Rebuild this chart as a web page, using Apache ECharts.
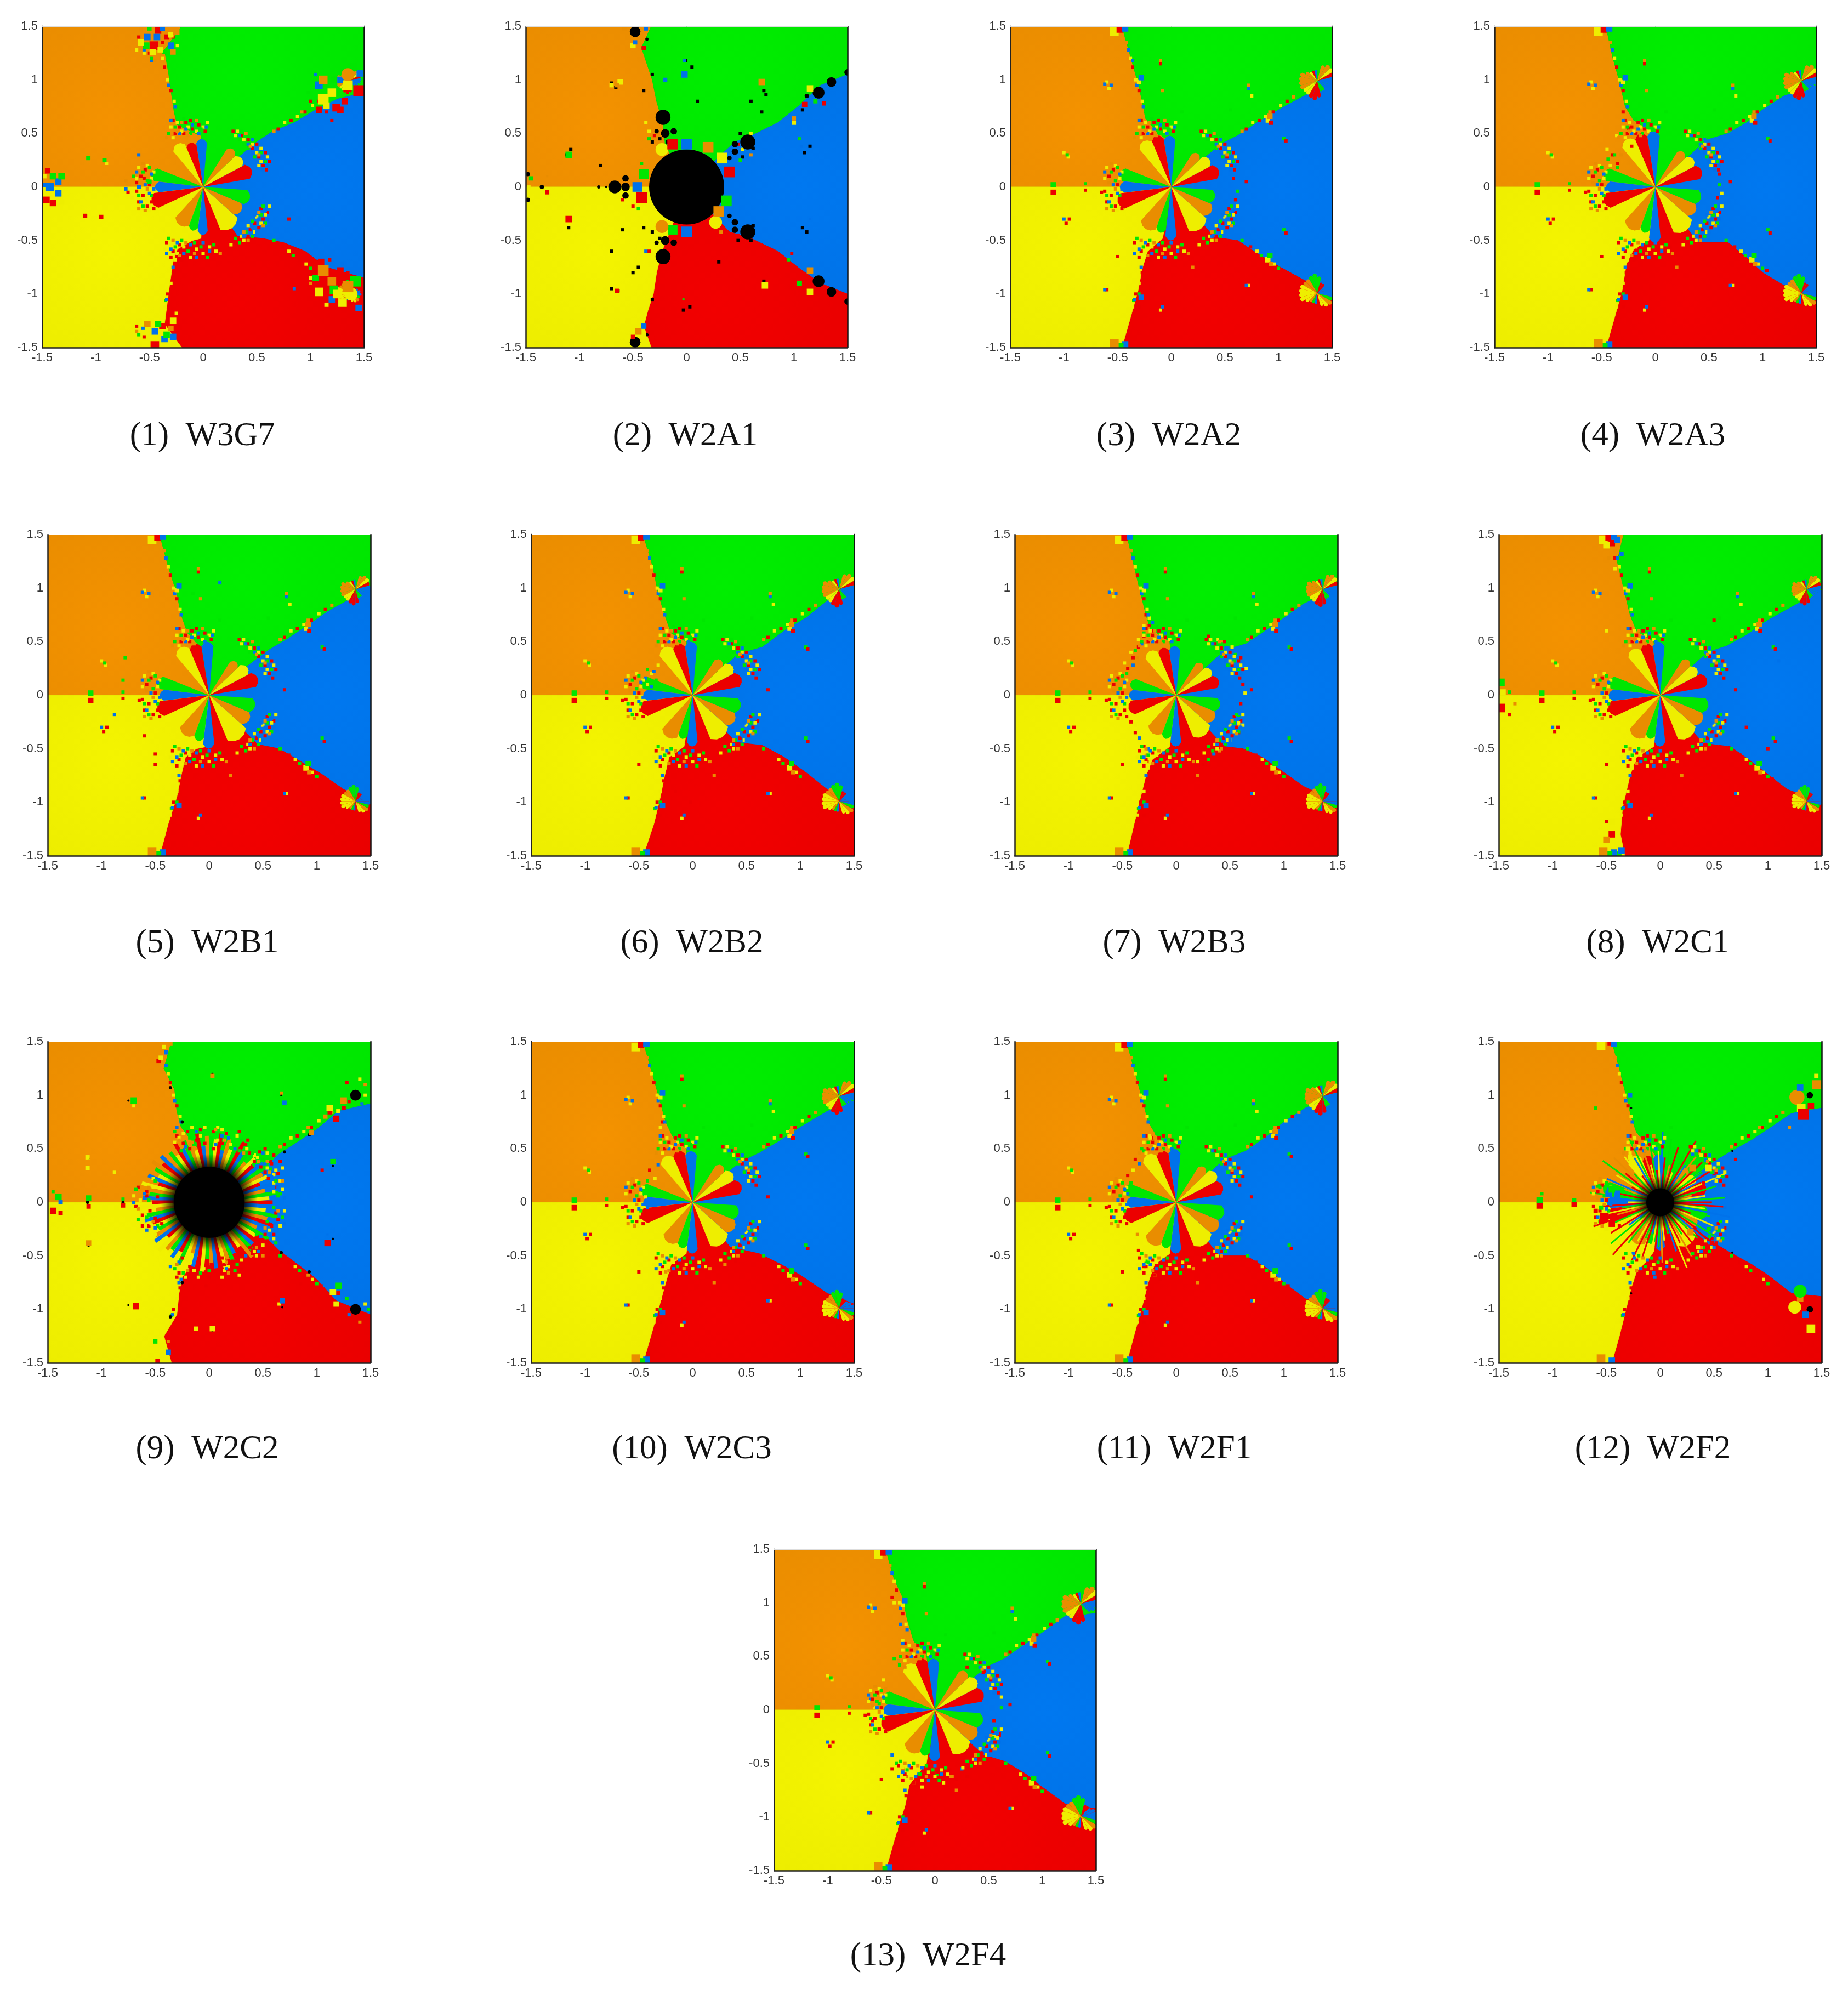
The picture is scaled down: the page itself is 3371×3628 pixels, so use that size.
<!DOCTYPE html>
<html>
<head>
<meta charset="utf-8">
<script src="https://cdn.jsdelivr.net/npm/echarts@6/dist/echarts.min.js"></script>
<style>html,body{margin:0;background:#fff}#main{width:3371px;height:3628px}</style>
</head>
<body>
<div id="main"></div>
<script>
// basins of attraction, 13 panels. all coordinates below are hundredths of the axis unit
var panelNames = ['(1)  W3G7','(2)  W2A1','(3)  W2A2','(4)  W2A3','(5)  W2B1','(6)  W2B2','(7)  W2B3','(8)  W2C1','(9)  W2C2','(10)  W2C3','(11)  W2F1','(12)  W2F2','(13)  W2F4'];
var tickValues = [-1.5,-1,-0.5,0,0.5,1,1.5];
var tickLabels = ['-1.5','-1','-0.5','0','0.5','1','1.5'];
var basinColor = {o:'#E98D00',g:'#00E600',b:'#0072EA',r:'#EC0000',y:'#EEEE00',k:'#000000'};

// basin boundaries, outer end first
var orangeGreen = [
'-20,150 -36,128 -32,105 -30,90 -27,70 -24,58 -12,52 -2,48 0,0',
'-33,150 -42,130 -37,115 -32,100 -28,80 -22,60 -20,40 0,0',
'-46,150 -38,122 -31,97 -27,80 -24,64 -14,52 -4,44 0,0',
'-46,150 -40,122 -33,97 -28,75 -20,62 -4,52 0,0',
'-46,150 -38,120 -30,95 -26,75 -20,58 -8,45 0,0',
'-46,150 -37,120 -32,95 -26,75 -20,58 -6,50 0,0',
'-46,150 -39,120 -33,95 -28,75 -24,62 -6,50 0,0',
'-34,150 -40,125 -34,100 -28,75 -22,60 -6,50 0,0',
'-35,150 -42,125 -32,105 -30,85 -26,70 -10,50 0,0',
'-46,150 -38,122 -31,97 -25,75 -18,60 -6,50 0,0',
'-46,150 -38,120 -31,95 -26,75 -18,62 -6,52 0,0',
'-45,150 -38,125 -33,105 -27,80 -22,65 -10,52 -2,40 0,0',
'-46,150 -38,122 -30,105 -26,85 -20,65 -8,52 0,0'];
var greenBlue = [
'150,88 125,82 105,72 85,60 65,52 50,42 0,0',
'150,105 125,95 105,76 85,60 65,50 45,42 0,0',
'150,98 122,84 100,72 80,60 62,48 46,40 0,0',
'150,95 120,85 100,72 85,60 68,50 48,44 0,0',
'150,100 128,88 110,78 90,64 72,52 55,42 0,0',
'150,102 125,88 105,72 85,60 65,45 42,38 0,0',
'150,100 118,85 100,72 80,58 65,48 45,42 0,0',
'150,98 118,80 100,70 80,56 62,46 44,40 0,0',
'150,92 120,85 100,68 85,58 65,45 55,35 0,0',
'150,95 125,85 100,70 82,58 62,46 45,38 0,0',
'150,100 120,88 100,75 85,62 65,48 45,40 0,0',
'150,88 122,83 100,68 85,58 65,47 50,38 0,0',
'150,90 122,88 100,72 85,62 65,48 48,40 0,0'];
var blueRed = [
'150,-85 115,-75 95,-60 75,-52 55,-48 32,-46 0,0',
'150,-100 125,-90 105,-76 85,-60 60,-48 40,-42 0,0',
'150,-100 122,-86 100,-74 80,-62 62,-50 40,-47 0,0',
'150,-98 120,-92 100,-80 85,-66 68,-52 40,-52 0,0',
'150,-100 125,-88 105,-74 85,-62 65,-50 45,-46 0,0',
'150,-102 125,-88 105,-72 85,-58 65,-47 40,-44 0,0',
'150,-100 118,-85 100,-72 80,-58 62,-50 45,-48 0,0',
'150,-100 118,-88 100,-74 82,-60 65,-48 40,-45 0,0',
'150,-105 118,-92 100,-72 85,-60 65,-45 55,-35 0,0',
'150,-95 125,-85 100,-68 82,-58 62,-48 35,-42 0,0',
'150,-100 120,-90 100,-75 85,-62 65,-50 40,-50 0,0',
'150,-88 122,-85 100,-68 85,-58 65,-47 50,-38 0,0',
'150,-92 122,-88 100,-72 85,-60 65,-48 45,-42 0,0'];
var redYellow = [
'-20,-150 -36,-128 -33,-105 -31,-90 -28,-70 -24,-58 -10,-50 -2,-48 0,0',
'-33,-150 -40,-130 -36,-115 -31,-100 -28,-80 -23,-60 -15,-40 0,0',
'-46,-150 -38,-122 -31,-97 -27,-76 -22,-60 -8,-48 0,0',
'-46,-150 -38,-122 -31,-97 -27,-72 -20,-58 -6,-50 0,0',
'-46,-150 -38,-120 -30,-95 -26,-75 -22,-58 -12,-50 -2,-48 0,0',
'-46,-150 -36,-120 -30,-95 -26,-75 -22,-58 -8,-48 0,0',
'-46,-150 -39,-120 -33,-95 -28,-75 -22,-60 -6,-48 0,0',
'-33,-150 -37,-130 -35,-105 -28,-75 -22,-58 -6,-48 0,0',
'-35,-150 -42,-125 -30,-105 -28,-85 -25,-70 -10,-50 0,0',
'-46,-150 -38,-122 -31,-97 -25,-75 -20,-58 -6,-48 0,0',
'-46,-150 -38,-120 -31,-95 -26,-75 -20,-58 -6,-48 0,0',
'-45,-150 -38,-125 -33,-105 -27,-80 -22,-65 -10,-52 -2,-40 0,0',
'-46,-150 -38,-122 -33,-105 -28,-90 -24,-70 -8,-50 0,0'];

// petals around the origin: start angle in degrees, colour, then the length per panel
// a length of 0 means that sector just belongs to the basin behind it
var petalStart = [10,28,44,58,85,99,113,130,158,173,187,205,228,250,263,276,292,318,337,356];
var petalEnd   = [28,44,58,85,99,113,130,158,173,187,205,228,250,263,276,292,318,337,356,370];
var petalColor = 'ryogbryogbryogbryogb';
var petalLength = [
[48,45,45,0,45,43,47,0,50,45,50,0,42,42,45,0,47,42,45,0],
[],
[47,44,40,0,48,50,50,0,50,48,52,0,46,44,50,0,48,44,42,0],
[46,44,42,0,52,52,52,0,50,46,50,0,46,44,52,0,50,44,44,0],
[48,44,40,0,50,50,52,0,50,46,50,0,44,44,50,0,50,44,44,0],
[48,46,42,0,50,50,52,0,50,46,50,0,46,42,48,0,48,46,46,0],
[42,40,38,0,46,46,48,0,44,44,46,0,42,42,48,0,46,42,42,0],
[46,42,42,0,50,50,50,0,50,48,50,0,46,42,48,0,48,46,46,0],
[],
[48,46,44,0,48,50,50,0,50,46,50,0,44,44,48,0,48,46,44,0],
[46,46,42,0,50,50,52,0,50,46,50,0,46,44,48,0,48,46,46,0],
[45,40,40,0,45,45,50,0,55,50,50,0,45,40,45,0,48,40,45,0],
[48,48,46,0,48,50,50,0,50,48,52,0,46,44,48,0,48,46,46,0]];

// small rosettes near the right edge, 15 degree sectors
var rosetteCenters = [[136,99],[136,-99]];
var rosetteColors = ['bryoogbryoooooyyrrrggbbb','bbbrrgggooyyyyyogbryyogb'];
var rosetteRadii = [
[13,13,14,14,12,8,8,8,8,10,13,13,13,13,12,12,13,14,12,8,8,8,10,12],
[12,10,8,8,8,12,14,13,12,12,13,13,13,13,10,8,8,8,8,10,12,13,12,13]];
var rosetteScale = [0.9,0,1.3,1.3,1.1,1.25,1.2,1.1,0,1.25,1.3,0,1.4];

// radial spokes of the two panels with a black disc and streaks
var spokeColors = {
8:'rygobryogbryogbrgyobrygobryogbrygobrogybryogbryogbrygobryogbrgyobrygobryogbryogbrygobrogyb',
11:'rgyogrybrgyrgobrgyrogrbyrgyorgbrygorgyrbogrgbyrgyorgyrbgyrgoyrgrbyrgoyrgbyrogrygbrgoyrgbyr'};
var spokeReach = {
8:'325140325413042531405324150342513042531405324150342513405324153042513405231405324150342513',
11:'352041625304152630415263041526304152630415263041526304152630251403625140362514036251403625'};
var spokeBase = {8:[33,50,3,7],11:[13,30,6,3]};
var haloRadius = {8:[33,45],11:[13,25]};

// marks as colour:x,y[,radius] - with a radius it is a patch, without one a single speck
// mottled bands off the petal tips: upper right, lower right, top, bottom, left
var petalFringe =
 'r:28,52 36,48 42,44 50,40 46,36 58,32 52,28 62,24 56,20 59,16 30,-52 34,-48 42,-46 44,-40 52,-38 48,-34 56,-30 60,-24 54,-20 -28,62 -22,56 -16,60 -10,54 -4,58 2,52 -26,50 -18,50 -12,62 -34,-52 -28,-60 -22,-54 -16,-62 -10,-56 -4,-64 2,-58 8,-62 14,-56 -30,-66 -20,-68 -48,-14 -52,-18 -56,-8 -60,-14 -50,2 -58,10 -62,-4 -46,-20 -54,16;' +
 'y:32,52 30,48 38,44 46,40 54,36 50,32 60,28 54,24 52,20 26,-54 38,-50 36,-46 48,-42 42,-36 54,-34 50,-28 58,-26 62,-18 -30,56 -24,60 -20,52 -14,56 -6,52 0,56 4,60 -28,46 -36,-58 -30,-54 -24,-62 -18,-56 -12,-66 -6,-58 0,-62 6,-56 12,-60 -26,-68 -50,-22 -54,-12 -58,-2 -62,8 -48,8 -52,20 -60,18 -46,14;' +
 'g:36,52 42,48 34,44 38,40 42,36 54,32 48,28 58,24 34,-52 30,-48 46,-46 40,-42 46,-32 58,-34 54,-26 56,-18 -26,56 -18,64 -12,50 -8,60 -2,54 -32,50 -32,-48 -26,-56 -20,-50 -14,-60 -8,-52 -2,-56 4,-66 10,-54 -48,-8 -56,-18 -52,6 -60,-8 -56,14 -50,18;' +
 'b:34,48 46,44 42,40 50,36 46,32 56,28 50,24 60,20 55,16 38,-46 50,-42 46,-38 52,-30 48,-26 60,-30 58,-22 -22,50 -16,54 -10,58 -4,50 3,56 -30,62 -30,-58 -24,-52 -18,-62 -12,-54 -6,-66 0,-52 6,-60 -34,-62 -50,-6 -54,2 -58,-14 -62,14 -48,12 -46,-2;' +
 'o:40,50 44,38 52,30 42,-50 38,-42 56,-36 52,-24 -24,52 -14,48 -6,62 -20,60 -34,46 -28,-50 -22,-64 -16,-52 -8,-62 16,-62 -52,-2 -58,4 -54,-22 -60,-20 -56,22';
// the wider, all round fringe outside the streaks of panel 9
var streakFringe =
 'r:42,38 48,33 52,28 55,22 58,36 60,44 38,46 30,52 -24,55 -18,50 -12,58 -4,55 4,50 12,55 -50,-15 -55,-8 -48,5 -58,10 -44,-20 -25,-52 -18,-60 -10,-56 2,-58 12,-52 22,-55 38,-42 46,-36 52,-30 58,-22 62,-10 60,-30 -30,-70 -22,-72 30,-62 34,54 47,47 57,38 64,27 66,20 63,14 36,58 52,50 66,38 -30,62 -20,66 -8,68 4,66 16,64 28,66 -66,14 -58,6 -68,-4 -62,-12 -56,-22 -62,-22 -28,-66 -14,-68 0,-70 14,-58 26,-52 40,-48 54,-36 64,-16 58,-44;' +
 'y:45,42 54,32 60,26 35,50 20,54 -28,60 -8,62 8,58 -52,14 -60,-4 -54,-20 -20,-55 -14,-64 -5,-62 18,-60 30,-54 42,-46 50,-40 56,-26 14,-64 66,20 60,18 42,44 62,30 68,12 60,10 54,46 68,32 26,62 12,68 -32,56 -24,64 -16,70 -4,70 8,70 -70,6 -64,2 -52,22 -64,-8 -50,-30 -36,-46 -22,-70 -10,-70 12,-70 28,-68 44,-50 60,-34 66,-22 70,-8;' +
 'g:40,46 50,40 57,31 62,20 28,48 -26,48 -14,54 2,60 -50,20 -56,2 -48,-22 -58,-14 -24,-66 0,-64 26,-58 44,-30 54,-18 60,-5 64,6 55,40 66,8 30,58 -32,66 -18,60 8,64 -68,12 -66,-16 -32,-62 -8,-66 24,-64 68,-14 62,-38;' +
 'b:44,34 52,36 58,24 24,50 -22,52 6,54 -60,8 -50,-24 -28,-56 34,-50 48,-32 50,46 64,14 70,4 18,60 -30,70 -12,66 12,62 -70,0 -58,-26 -36,-60 -26,-72 16,-62 46,-46 62,-20 70,-20;' +
 'o:46,38 56,28 32,46 14,58 -16,56 -56,14 -52,-18 -20,-64 16,-56 44,-42 52,-24 54,38 68,20 -28,58 6,68 -66,-6 -30,-58 18,-66 50,-50 64,-8';
var edgeSpecks = 'r:70,54 82,62 95,70 108,80 -30,90 -36,112 -27,-80 -33,-100 74,-56 90,-68 104,-78;y:76,60 88,66 102,76 -27,80 -33,100 -38,120 -30,-90 -36,-112 80,-60 96,-72;g:66,-50 84,-64 100,-76 -35,-106;b:-26,75 -32,95 -40,128 -28,-75 -34,-105;o:66,52 92,70 114,84 -42,135';
var islandMarks = 'y:-53,145,4 -60,98 -58,92 -100,32 -96,28 -30,98,2 90,62,2 90,-68,2.5 75,85 -10,-115 72,-92,1.5;' +
 'r:-48,147,3 -10,115 -60,-96 -95,-30 -98,-34 93,60,2 107,43,1.5 107,-43 -50,-65 -110,-5,2.5 -80,-3,1.5 70,5 -65,-5 -30,-112;' +
 'b:-43,148,3 -43,-147,3 -62,96 -56,95 -28,102,2.5 -28,-103,2.5 72,92,1.5 -62,-96 -100,-30 70,-92,1.5 -8,-112;' +
 'g:-110,2,2.5 -80,3,1.5 -47,-148,2.5 -97,30 105,45 -30,-100 92,-64,2.5 55,72 10,70 105,-40;' +
 'o:-53,-146,4 92,66,2.5 93,-72,2 -8,90 -10,118 72,95 20,-75';
var panelMarks = [
'r:-46,132,4 -42,146,3 -34,140,2.5 108,72,3 124,74,3.5 128,72,3 132,80,3 145,90,5 -146,-12,3 -140,-15,3 -145,15,2.5 -45,-148,4 -38,-130,3 110,-70,3 128,-78,3 80,-30 -95,-28,2 -110,-27,2 -50,125 -38,135 -28,140 -60,140 115,70 120,62 100,80 -62,-130 -30,-128 -55,-140 100,-82 118,-68 135,-80 -70,-5 -62,4 -55,8;b:-52,140,3 -38,148,2.5 -30,132,3 -43,140,3 108,95,3.5 128,100,3 146,106,3 -143,0,4 -135,5,3 -135,-6,3 -147,2,2 -28,-140,3 -45,-135,3 -36,-142,3 120,-105,3 145,-113,3 -60,30 85,-95,1.5 -55,128 -48,118 105,105 130,-72 -56,-132 -72,-2 -60,0,2;g:-53,132,3 -50,148,2 -36,126,2 122,100,3 140,112,3.5 -140,10,3 -132,10,3 -42,-128,3 -34,-138,3 105,-85,3 122,-96,4 142,-88,5 -92,25,2 -107,27,2 -48,120 98,88 -60,-138 -65,10 -50,5,2;y:-58,135,3 -47,126,3 -40,128,2.5 -30,142,2.5 112,82,5 120,88,4 115,76,3 135,95,4.5 -148,10,2 -132,-14,2.5 -28,-125,3 108,-98,4 125,-100,4 138,-100,6 130,-108,4 115,-110,2 -90,22 -55,125 -62,128 -24,132 100,-85 -25,-118 -66,-10 -58,-4,2;o:-25,145,3 -28,126,2.5 -58,147,2 112,100,4 135,105,6 -52,-128,3 -30,-132,2.5 112,-78,5 120,-88,4 135,-93,5 -45,118 -62,-135 100,-90 -72,6',
'k:0,0,35 -22,65,7 -22,-65,7 57,42,7 57,-42,7 -67,0,6 -57,0,4 -57,8,3 -57,-8,3 123,88,5.5 135,98,4.5 150,107,3 123,-88,5.5 135,-98,4.5 150,-107,3 -48,145,5 -48,-145,5 -20,50,4 -12,52,3 -28,52,2 -20,-50,4 -12,-52,3 -28,-52,2 45,33,3 45,40,3 40,27,2 45,-33,3 45,-40,3 40,-27,2 -37,138,1.5 -37,-138,1.5 112,85,2 -148,12,2 -148,-12,2 -135,0,2 -82,0,1.5 -75,0,1.2 -70,97 -66,93 -1,118 5,112 -108,35 -112,30 108,-38 112,-42 -110,-38 -64,-97 -70,-95 -3,-115 3,-112 72,90 74,86 115,38 110,32 72,-88 -25,45 -32,42 -18,42 52,28 50,50 62,36 48,-50 62,-36 -25,-48 -32,-42 -40,-38 -32,105 -32,-105;y:-23,35,6 33,27,5 27,-33,6 -50,132,2.5 115,92,3 -147,0,1.5 115,-98,3 -70,95,2 100,60,2 73,-92,3 -62,98,2.5 -40,-138,2 -38,60 -35,52 52,35 60,50;r:-13,40,5 40,14,5 -42,-10,5 110,77,2.5 128,78,2 -40,130,2 -130,-5,2 -110,-30,3 -65,-97,2 -50,-140,2 98,-62,1.5 -30,48 48,40 -35,-60 48,-45 -60,-12 -50,-18;b:0,40,5 -46,0,4.5 0,-42,5 -48,135,2 -38,148,2 107,38,1.5 115,-30,1 -2,105,3 -20,100,2 -40,-130,2.5 -2,118 -38,-60;g:-40,12,4.5 37,-13,5 -13,-40,4.5 -110,30,3 120,80,2 -145,8,2 105,45,1.5 105,-90,2.5 95,-68,1.5 -3,-105,1 -35,45 -42,22 50,25 -45,-20;o:20,37,5 30,-23,5 -23,-37,6 -58,148,2 -65,95,2 70,98,3 100,64,2 -45,-135,3 115,-78,3 -130,10,1 60,30 32,-42;k:-80,20 -60,-40 10,80 70,70 60,-50 -45,-75 -40,90 -50,-80 30,-70 60,80 -20,-70 108,72 -70,-60',
'b:-36,118,1.5;r:58,8 60,-12;g:62,-4',
'r:-30,70 -25,55 -40,30 -35,22 -22,38 60,12 58,-10;y:-30,62 -36,48 -42,20 -45,35 62,-6;g:-35,18 -38,30 -44,26 60,2;o:-25,48 -32,30',
'g:-78,35 -15,95 45,50 -80,14;b:-88,-18 10,105;r:-50,-55 -60,-38',
'r:-16,-90 -2,-100;y:-32,28 -38,20 -42,10;g:-42,24 -34,14;b:-36,22 -44,16 -38,8',
'r:-28,75 -25,65 -22,60 -30,55 -35,45 -40,35 -45,25 30,55 45,50 60,35 58,-35 45,-50 25,-65 -25,-62 -30,-48 -38,-35 -42,-25 62,10 60,-8;y:-25,72 -30,65 -35,52 -42,40 -48,30 38,52 52,45 65,25 62,-28 50,-42 20,-62 -30,-52 -38,-28 64,2;g:-30,58 -38,42 -46,20 26,52 55,38 58,-20 30,-60 -32,-58;b:-22,68 -32,48 -40,28 48,44 60,30 54,-32 35,-55 -26,-50 -34,-40;o:-36,35 42,50 58,-28 40,-52 -28,-56',
'r:-45,142,3 -42,128 -45,-130,3 -50,-118 -148,-12,4 -140,-18 80,-30 100,-50 50,70;y:-50,140,3 -42,118 -40,-140,3 -45,-118,3 -146,3,2.5 -50,60;g:-148,12,3.5 -140,3 -38,-148,2;b:-40,145,3 -36,132,2 -36,-145,3 110,32;o:-48,128 -50,-135,3 -135,-8',
'k:0,0,33 136,100,5 136,-100,5 -25,75,1.5 -36,107,1.5 70,47,1.5 93,63,1.5 67,-47,1.5 93,-65,1.5 -25,-75,1.5 -36,-107,1.5 -113,0,1.5 -80,0,1.5 -112,41,1 -112,-41,1 -75,95,1 -75,-96,1 67,100,1 3,120,1 115,34,1 3,-120,1 68,-98,1 115,-34,1;r:-47,132,2 -48,-148,2 118,78,3 112,84,2 125,88,2 120,-85,2 -145,-8,3 -138,-10,2 -68,-97,3 -3,-78 85,-76 105,30 110,-38,3 -112,-4,2 -80,-3,2 128,112 130,94 125,-110 135,-115;y:-42,145,2 -45,135,2 -44,-135,2 112,88,3 120,85,2 115,-84,3 118,-95,2.5 -113,42,2 -113,32,2 -88,28 3,-118,2.5 -12,-118,2 65,-95 -70,90,1.5 145,100 145,-95 140,115;g:-70,95,3 -50,-130,2 110,90 -140,5,3 -112,4,2.5 -80,3,1.5 115,38,2.5 120,-78,3 -145,10,1.5 128,105 148,-100 128,-90;b:-40,140,2 -38,-140,2.5 -138,0,2 70,93,2 68,-92,2.5 110,-30,1 142,92 130,-105;o:-36,148,2 -38,-130,1.5 125,95,3 108,80,2 3,118,2 67,102,1.5 -112,-38,2.5 -145,2 95,65,2.5 92,-68,1.5 145,110 140,-112',
'r:-28,75 -40,30 40,-55;y:-30,70 -35,22 -44,5;g:-30,58 -42,20;b:-32,35 -42,-5;o:-25,-65 30,-58',
'r:-22,60 -38,40 -45,25 -35,-45 -30,-60 -15,-72;y:-25,62 -40,30 -30,-48 -20,-68;g:-30,48 -42,18 -28,-55;b:-34,36 -45,8 -24,-58;o:-20,55 -36,-30',
'k:0,0,13 139,100,3 139,-100,3 -27,88,1 -27,-85,1 67,48,1 67,-47,1 -112,0,1 -80,0,1;o:127,98,7 130,-90,3 -55,-146,4 120,70 145,110,4;y:131,88,4 125,-98,6 -55,146,4 140,-118,4 145,118,2;r:133,82,5 -47,148,2 -112,-3,3 -80,-2,2.5 70,40 50,25 40,18 -52,-14,4 -45,-20,3 -38,-22 48,-38,2 140,90,3 -47,-150,1 -60,-8,2 -55,-18,2;b:130,107,3 -43,148,3 -45,-148,3 -48,8,3 -40,8,3 -28,100,2 135,-105,3 -15,48 30,45 42,38 60,-5 -25,-48 -5,-70;g:130,-83,6 -112,2,3 -80,2,2 -45,12,3 45,-25,2 -55,-5,2 -110,8 -60,88 10,70 -20,78 -58,15;y:-30,50,2 -28,42,2 45,32,3 35,-42,2 -50,-25,2 -28,-50,2;o:30,32,3 28,-28,3',
'r:-40,105 30,40 45,35 55,-10 60,-22 -58,-10 -40,-55 -25,-62 -30,-55 -18,-70 20,-65 30,-62 -52,-18;y:-38,100 -30,65 50,32 62,12 55,-25 -56,2 -50,14 -35,-58 -28,-68 -12,-72 8,-68 -48,28;g:-38,48 -33,42 62,2 -54,8 -36,-50 2,-60;b:-32,80 -34,46 55,22 -60,10 -40,-42 -15,-60 25,-55;o:-28,40 -20,60 35,48 -46,20 -20,-68 15,-62 38,-46'];
// which fringe a panel gets (0 none, 1 petal bands, 2 streak fringe) and whether it has the shared islands
var fringeKind = [1,0,1,1,1,1,1,1,2,1,1,1,1];
var hasIslands = [0,0,1,1,1,1,1,1,0,1,1,0,1];

// layout of the panels in pixels
var panelLeft = [77,959,1843,2726, 87,969,1851,2734, 87,969,1851,2734, 1412];
var panelTop = [48,48,48,48, 975,975,975,975, 1900,1900,1900,1900, 2826];
var panelWidth = [587,587,587,587, 589,589,589,589, 589,589,589,589, 587];
var captionX = [364,1245,2127,3010, 373,1257,2137,3019, 373,1257,2137,3010, 1688];
var captionY = [791,791,791,791, 1716,1716,1716,1716, 2639,2639,2639,2639, 3564];
var plotHeight = 586;

var chart = echarts.init(document.getElementById('main'));

function pts(s) {
    return s.trim().split(/\s+/).map(function (p) {
        var v = p.split(',');
        return [v[0] / 100, v[1] / 100];
    });
}
function parseMarks(s) {
    var out = {discs: [], dots: []};
    s.split(';').forEach(function (g) {
        if (!g.trim()) return;
        var c = g.trim()[0];
        g.trim().slice(2).trim().split(/\s+/).forEach(function (p) {
            var v = p.split(',').map(Number);
            if (v.length > 2) out.discs.push([v[0] / 100, v[1] / 100, v[2] / 100, c]);
            else out.dots.push([v[0] / 100, v[1] / 100, c]);
        });
    });
    return out;
}
function polar(cx, cy, deg, r) {
    var a = deg * Math.PI / 180;
    return [cx + r * Math.cos(a), cy + r * Math.sin(a)];
}
function wedge(cx, cy, a0, a1, r) {
    var w = a1 - a0;
    return [[cx, cy], polar(cx, cy, a0, r * 0.92), polar(cx, cy, a0 + w * 0.25, r * 0.98),
        polar(cx, cy, a0 + w * 0.5, r), polar(cx, cy, a0 + w * 0.75, r * 0.98), polar(cx, cy, a1, r * 0.92)];
}

var basinFill = {
    o: ['#F49200', '#E08800', -0.85, 0.6],
    g: ['#00EE00', '#00E000', 0.3, 1.05],
    b: ['#0078F0', '#006EE0', 1.05, 0],
    r: ['#F20000', '#E40000', 0.3, -1.05],
    y: ['#F4F400', '#E6E600', -0.85, -0.6]
};

var grids = [], xAxes = [], yAxes = [], titles = [], series = [];

panelNames.forEach(function (name, i) {
    grids.push({left: panelLeft[i], top: panelTop[i], width: panelWidth[i], height: plotHeight});
    titles.push({
        text: name, left: captionX[i], top: captionY[i], textAlign: 'center', textVerticalAlign: 'middle',
        textStyle: {fontFamily: 'Liberation Serif', fontSize: 61, fontWeight: 'normal', color: '#111'}
    });
    var labelStyle = {
        show: true, fontFamily: 'Liberation Sans', fontSize: 22, color: '#333', margin: 8,
        formatter: function (v) { return tickLabels[tickValues.indexOf(v)]; }
    };
    xAxes.push({gridIndex: i, type: 'value', min: -1.5, max: 1.5, interval: 0.5, position: 'bottom', splitLine: {show: false}, axisTick: {show: false},
        axisLine: {onZero: false, lineStyle: {color: '#222', width: 2.5}}, axisLabel: labelStyle, z: 9});
    xAxes.push({gridIndex: i, type: 'value', min: -1.5, max: 1.5, interval: 0.5, position: 'top', splitLine: {show: false}, axisTick: {show: false},
        axisLine: {onZero: false, lineStyle: {color: '#dddddd', width: 1}}, axisLabel: {show: false}, z: 9});
    yAxes.push({gridIndex: i, type: 'value', min: -1.5, max: 1.5, interval: 0.5, position: 'left', splitLine: {show: false}, axisTick: {show: false},
        axisLine: {onZero: false, lineStyle: {color: '#222', width: 2.5}}, axisLabel: labelStyle, z: 9});
    yAxes.push({gridIndex: i, type: 'value', min: -1.5, max: 1.5, interval: 0.5, position: 'right', splitLine: {show: false}, axisTick: {show: false},
        axisLine: {onZero: false, lineStyle: {color: '#111', width: 2.5}}, axisLabel: {show: false}, z: 9});

    var ax = {xAxisIndex: i * 2, yAxisIndex: i * 2};

    // basins
    var og = pts(orangeGreen[i]), gb = pts(greenBlue[i]), br = pts(blueRed[i]), ry = pts(redYellow[i]);
    var basins = [
        ['o', [[-1.5, 1.5]].concat(og, [[-1.5, 0]])],
        ['g', og.slice().reverse().concat([[1.5, 1.5]], gb)],
        ['b', gb.slice().reverse().concat(br)],
        ['r', br.slice().reverse().concat([[1.5, -1.5]], ry)],
        ['y', [[0, 0], [-1.5, 0], [-1.5, -1.5]].concat(ry)]
    ];
    series.push(Object.assign({
        type: 'custom', clip: true, z: 1, silent: true,
        data: basins.map(function (b, k) { return [k]; }),
        renderItem: function (params, api) {
            var b = basins[params.dataIndex], f = basinFill[b[0]];
            var c = api.coord([f[2], f[3]]);
            return {
                type: 'polygon',
                shape: {points: b[1].map(function (p) { return api.coord(p); })},
                style: {
                    fill: new echarts.graphic.RadialGradient(c[0], c[1], plotHeight * 0.75,
                        [{offset: 0, color: f[0]}, {offset: 1, color: f[1]}], true),
                    stroke: f[1], lineWidth: 1
                }
            };
        }
    }, ax));

    // petals and rosettes
    var wedges = [];
    petalLength[i].forEach(function (len, k) {
        if (len > 0) wedges.push([wedge(0, 0, petalStart[k], petalEnd[k], len / 100), petalColor[k]]);
    });
    if (rosetteScale[i] > 0) {
        rosetteCenters.forEach(function (ctr, t) {
            rosetteColors[t].split('').forEach(function (col, k) {
                wedges.push([wedge(ctr[0] / 100, ctr[1] / 100, k * 15, k * 15 + 15, rosetteRadii[t][k] * rosetteScale[i] / 100), col]);
            });
        });
    }
    if (wedges.length) {
        series.push(Object.assign({
            type: 'custom', clip: true, z: 2, silent: true,
            data: wedges.map(function (w, k) { return [k]; }),
            renderItem: function (params, api) {
                var w = wedges[params.dataIndex];
                return {type: 'polygon', shape: {points: w[0].map(function (p) { return api.coord(p); })},
                    style: {fill: basinColor[w[1]]}};
            }
        }, ax));
    }

    // spokes
    if (spokeColors[i]) {
        var cols = spokeColors[i], reach = spokeReach[i], base = spokeBase[i];
        series.push(Object.assign({
            type: 'custom', clip: true, z: 3, silent: true,
            data: cols.split('').map(function (c, k) { return [k]; }),
            renderItem: function (params, api) {
                var k = params.dataIndex, deg = k * 360 / cols.length;
                var d = Number(reach[k % reach.length]);
                var p0 = api.coord(polar(0, 0, deg, base[0] / 100));
                var p1 = api.coord(polar(0, 0, deg, (base[1] + d * base[2]) / 100));
                return {type: 'line', shape: {x1: p0[0], y1: p0[1], x2: p1[0], y2: p1[1]},
                    style: {stroke: basinColor[cols[k]], lineWidth: base[3]}};
            }
        }, ax));
        var halo = haloRadius[i];
        series.push(Object.assign({
            type: 'custom', clip: true, z: 4, silent: true, data: [[0]],
            renderItem: function (params, api) {
                var c = api.coord([0, 0]), r = api.size([halo[1] / 100, 0])[0];
                return {type: 'circle', shape: {cx: c[0], cy: c[1], r: r},
                    style: {fill: new echarts.graphic.RadialGradient(c[0], c[1], r,
                        [{offset: 0, color: 'rgba(0,0,0,1)'}, {offset: halo[0] / halo[1], color: 'rgba(0,0,0,0.8)'}, {offset: 1, color: 'rgba(0,0,0,0)'}], true)}};
            }
        }, ax));
    }

    // islands, lobes, black discs and specks
    var text = panelMarks[i];
    if (fringeKind[i] === 1) text += ';' + petalFringe + ';' + edgeSpecks;
    if (fringeKind[i] === 2) text += ';' + streakFringe + ';' + edgeSpecks;
    if (hasIslands[i]) text += ';' + islandMarks;
    var marks = parseMarks(text);
    series.push(Object.assign({
        type: 'custom', clip: true, z: 6, silent: true,
        data: marks.discs.map(function (d, k) { return [k]; }),
        renderItem: function (params, api) {
            var d = marks.discs[params.dataIndex], c = api.coord([d[0], d[1]]);
            var r = api.size([d[2], 0])[0];
            if (d[3] === 'k' || d[2] > 0.05) {
                return {type: 'circle', shape: {cx: c[0], cy: c[1], r: r}, style: {fill: basinColor[d[3]]}};
            }
            return {type: 'rect', shape: {x: c[0] - r, y: c[1] - r, width: r * 2, height: r * 2}, style: {fill: basinColor[d[3]]}};
        }
    }, ax));
    series.push(Object.assign({
        type: 'scatter', symbol: 'rect', symbolSize: 6, clip: true, z: 5, silent: true, animation: false,
        data: marks.dots,
        itemStyle: {opacity: 1, color: function (p) { return basinColor[p.data[2]]; }}
    }, ax));
});

chart.setOption({
    animation: false,
    backgroundColor: '#fff',
    title: titles,
    grid: grids,
    xAxis: xAxes,
    yAxis: yAxes,
    series: series
});
</script>
</body>
</html>
